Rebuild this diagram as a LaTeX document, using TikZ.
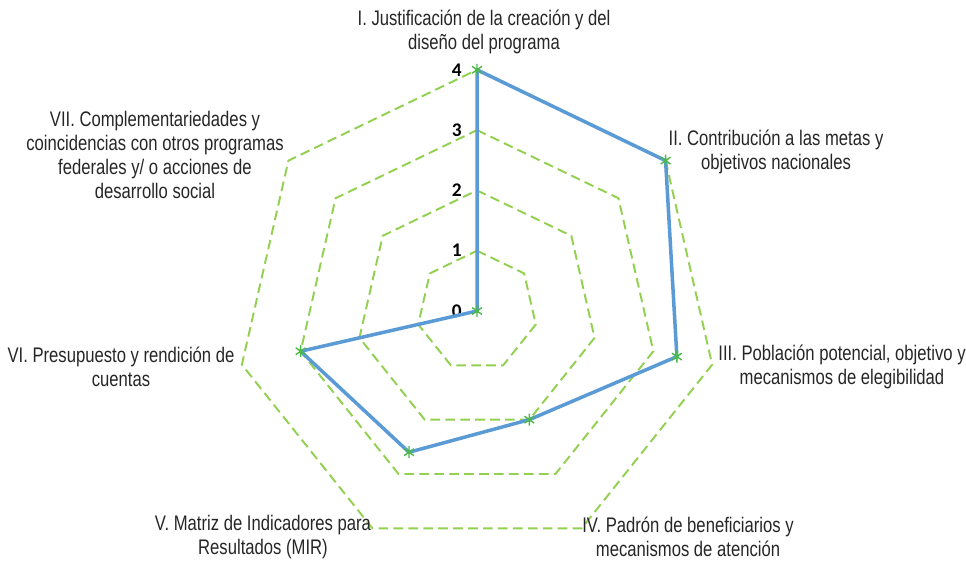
\documentclass[tikz,border=0pt]{standalone}
\usepackage{fontspec}
\setmainfont{Liberation Sans}[FakeStretch=0.79]
\newfontfamily\tickfont{Carlito}
\usetikzlibrary{calc}

\definecolor{gridgreen}{HTML}{92D050}
\definecolor{seriesblue}{HTML}{5B9BD5}
\definecolor{markgreen}{HTML}{4CB848}

\tikzset{
  gridline/.style={gridgreen,line width=1.1pt,dash pattern=on 5.5pt off 3pt},
  series/.style={seriesblue,line width=2pt,line join=round},
  marker/.style={markgreen,line width=0.8pt},
  axislabel/.style={align=center,text=black!85,inner sep=0pt,
    font=\fontsize{12}{13.6}\selectfont},
  ticklabel/.style={anchor=east,inner sep=0pt,font=\tickfont\bfseries\fontsize{11}{13}\selectfont}
}

\begin{document}
\begin{tikzpicture}[x=0.02cm,y=0.02cm]
    \useasboundingbox (0,0) rectangle (966,561);
    \coordinate (o) at (477,250);

    % Levels
    \foreach \l in {1,...,4} {
        \draw[gridline] ($(o)+(90:\l*60.3)$)
            \foreach \k in {1,...,6} { -- ($(o)+({90-\k*360/7}:\l*60.3)$) } -- cycle;
        \node[ticklabel] (t\l) at ($(o)+(-15,\l*60.3)$) {\l};
    }
    \node[ticklabel] (t0) at ($(o)+(-15,0)$) {0};

    % Data
    \foreach \v [count=\k] in {4,4,3.4,2,2.6,3,0}
        \coordinate (p\k) at ($(o)+({90-(\k-1)*360/7}:\v*60.3)$);
    \draw[series] (p1) -- (p2) -- (p3) -- (p4) -- (p5) -- (p6) -- (p7) -- cycle;
    \foreach \k in {1,...,7}
        \draw[marker] (p\k) +(90:6) -- +(270:6)
                      (p\k) +(35:6) -- +(215:6)
                      (p\k) +(145:6) -- +(325:6);

    % Axis names
    \node[axislabel] (a1) at (484,529) {I. Justificación de la creación y del\\diseño del programa};
    \node[axislabel] (a2) at (776,409) {II. Contribución a las metas y\\objetivos nacionales};
    \node[axislabel] (a3) at (842,194) {III. Población potencial, objetivo y\\mecanismos de elegibilidad};
    \node[axislabel] (a4) at (688,24) {IV. Padrón de beneficiarios y\\mecanismos de atención};
    \node[axislabel] (a5) at (263,24) {V. Matriz de Indicadores para\\Resultados (MIR)};
    \node[axislabel] (a6) at (121,194) {VI. Presupuesto y rendición de\\cuentas};
    \node[axislabel] (a7) at (155,406) {VII. Complementariedades y\\coincidencias con otros programas\\federales y/ o acciones de\\desarrollo social};
\end{tikzpicture}
\end{document}
